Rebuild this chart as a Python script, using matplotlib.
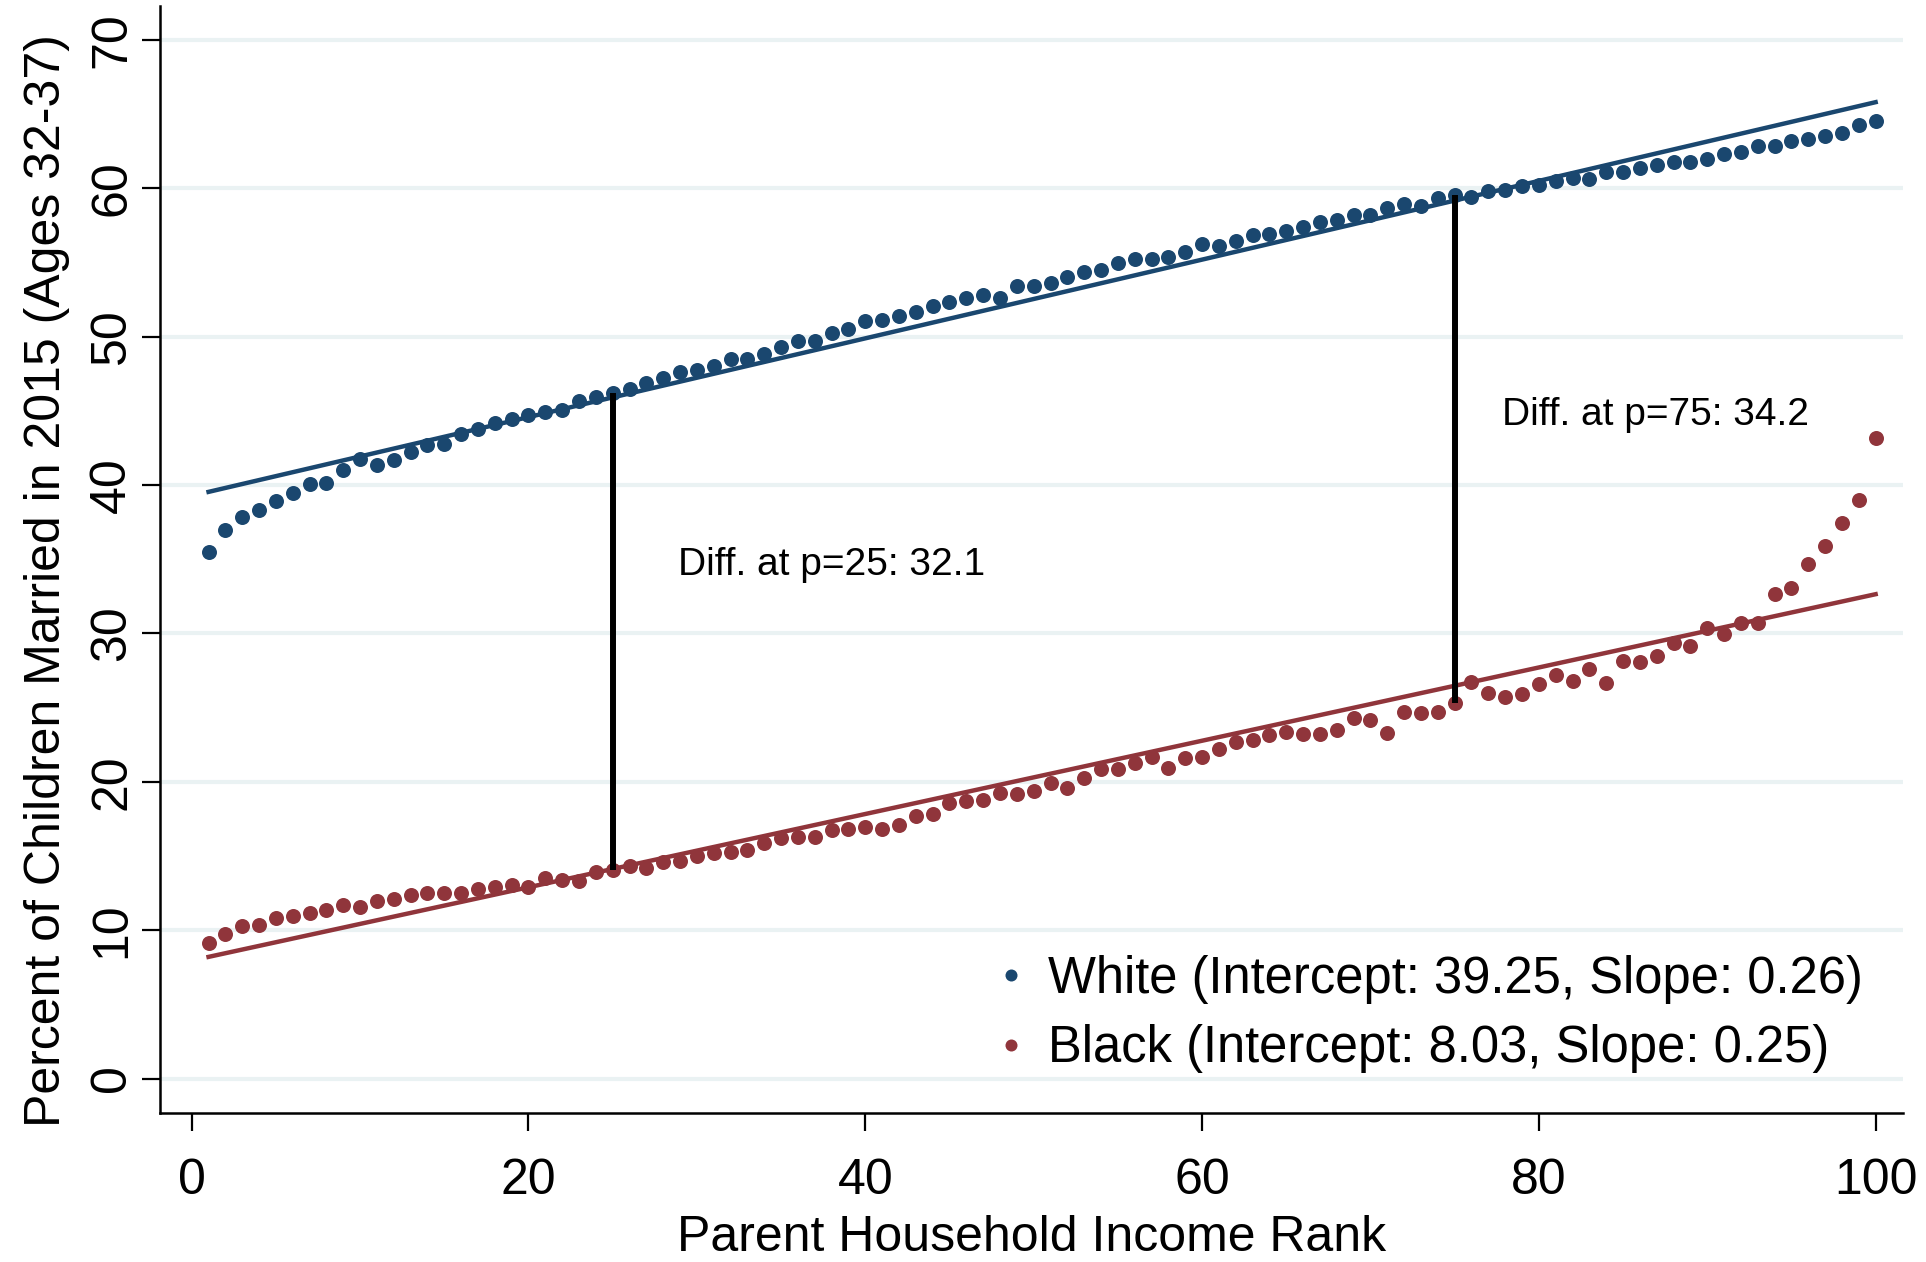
import numpy as np
import matplotlib
matplotlib.use('Agg')
from matplotlib import pyplot as plt

plt.rcParams['font.family'] = ['Liberation Sans', 'DejaVu Sans']

# %% data
rank = np.arange(1, 101)
white = [35.5, 36.95, 37.85, 38.3, 38.93, 39.47, 40.05, 40.14, 41.04, 41.72,
         41.33, 41.67, 42.23, 42.68, 42.79, 43.42, 43.74, 44.21, 44.48, 44.70,
         44.89, 45.04, 45.63, 45.90, 46.21, 46.50, 46.88, 47.18, 47.62, 47.72,
         48.05, 48.52, 48.46, 48.86, 49.31, 49.71, 49.71, 50.21, 50.50, 51.04,
         51.15, 51.42, 51.66, 52.07, 52.32, 52.63, 52.81, 52.63, 53.44, 53.44,
         53.62, 54.02, 54.34, 54.47, 54.99, 55.22, 55.24, 55.37, 55.69, 56.21,
         56.11, 56.45, 56.83, 56.90, 57.10, 57.39, 57.73, 57.84, 58.18, 58.18,
         58.70, 58.92, 58.79, 59.37, 59.53, 59.42, 59.82, 59.91, 60.13, 60.20,
         60.49, 60.72, 60.59, 61.10, 61.10, 61.39, 61.55, 61.77, 61.77, 62.00,
         62.34, 62.45, 62.83, 62.83, 63.17, 63.32, 63.52, 63.73, 64.29, 64.51]
black = [9.15, 9.71, 10.27, 10.34, 10.79, 10.94, 11.17, 11.35, 11.68, 11.57,
         11.97, 12.07, 12.36, 12.51, 12.51, 12.51, 12.74, 12.92, 13.03, 12.88,
         13.48, 13.37, 13.30, 13.93, 14.05, 14.31, 14.16, 14.60, 14.67, 14.99,
         15.17, 15.28, 15.42, 15.88, 16.22, 16.31, 16.29, 16.74, 16.81, 16.96,
         16.81, 17.08, 17.70, 17.86, 18.58, 18.71, 18.76, 19.25, 19.16, 19.39,
         19.89, 19.55, 20.22, 20.85, 20.85, 21.23, 21.68, 20.94, 21.57, 21.64,
         22.20, 22.69, 22.80, 23.14, 23.36, 23.25, 23.19, 23.52, 24.27, 24.15,
         23.28, 24.67, 24.60, 24.71, 25.30, 26.69, 25.95, 25.72, 25.90, 26.62,
         27.18, 26.78, 27.57, 26.66, 28.13, 28.04, 28.46, 29.32, 29.16, 30.33,
         29.99, 30.67, 30.73, 32.62, 33.07, 34.66, 35.90, 37.45, 38.98, 43.17]
white_fit = [39.27, 0.2653]   # intercept, slope of drawn line
black_fit = [7.95, 0.2469]
diff_ranks = [25, 75]
diff_labels = ['Diff. at p=25: 32.1', 'Diff. at p=75: 34.2']
diff_label_pos = [(28.9, 34.6), (77.8, 44.7)]
legend_labels = ['White (Intercept: 39.25, Slope: 0.26)',
                 'Black (Intercept: 8.03, Slope: 0.25)']

navy = '#1A476F'
maroon = '#90353B'

# %% plot
fig = plt.figure(figsize=(19.26, 12.62), dpi=100)
ax = fig.add_axes([0.0831, 0.118, 0.905, 0.877])

for yg in range(0, 71, 10):
    ax.axhline(yg, color='#EAF2F3', lw=3, zorder=0)

xf = np.array([rank[0], rank[-1]])
ax.plot(xf, white_fit[0] + white_fit[1] * xf, color=navy, lw=3.2, zorder=2)
ax.plot(xf, black_fit[0] + black_fit[1] * xf, color=maroon, lw=3.2, zorder=2)

ax.plot(rank, white, 'o', ms=10.8, color=navy, mec='none', zorder=3,
        label=legend_labels[0])
ax.plot(rank, black, 'o', ms=10.8, color=maroon, mec='none', zorder=3,
        label=legend_labels[1])

for p, lab, pos in zip(diff_ranks, diff_labels, diff_label_pos):
    ax.vlines(p, black[p - 1], white[p - 1], color='black', lw=4.3, zorder=4)
    ax.text(pos[0], pos[1], lab, fontsize=28, va='center', ha='left')

ax.set_xlim(-1.88, 101.63)
ax.set_ylim(-2.33, 72.26)
ax.set_xticks(range(0, 101, 20))
ax.set_yticks(range(0, 71, 10))
ax.tick_params(axis='both', labelsize=36, length=13, width=1.6, direction='out')
ax.tick_params(axis='x', pad=19)
ax.tick_params(axis='y', pad=5)
for lab in ax.get_yticklabels():
    lab.set_rotation(90)
    lab.set_va('center')

ax.spines['top'].set_visible(False)
ax.spines['right'].set_visible(False)
ax.spines['left'].set_linewidth(1.8)
ax.spines['bottom'].set_linewidth(1.8)

ax.set_xlabel('Parent Household Income Rank', fontsize=36, labelpad=8)
ax.set_ylabel('Percent of Children Married in 2015 (Ages 32-37)', fontsize=36,
              labelpad=14)
ax.yaxis.label.set_y(0.4815)

ax.legend(loc='lower left', bbox_to_anchor=(0.465, 0.013), frameon=False,
          fontsize=36.5, handlelength=0.6, handletextpad=0.42, borderpad=0,
          labelspacing=0.4, numpoints=1, markerscale=0.8)

fig.savefig('out.png', dpi=100)
